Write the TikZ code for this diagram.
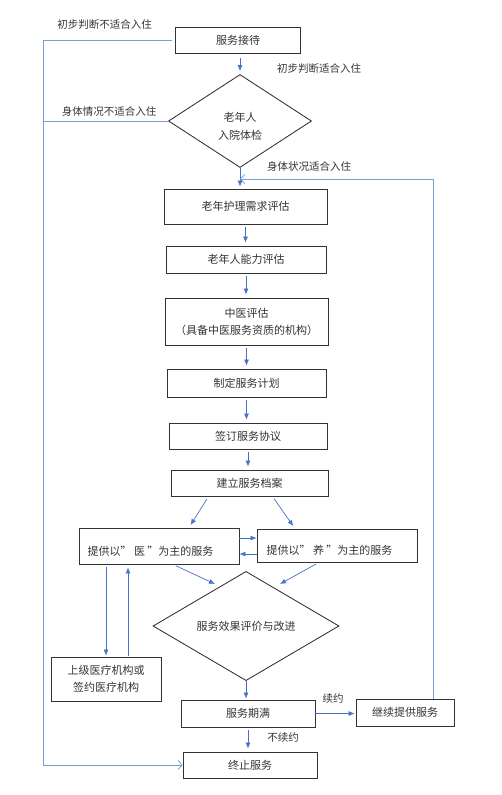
\documentclass[tikz,border=0pt]{standalone}
\usepackage{fontspec}
\setmainfont{Noto Sans CJK SC}
\usetikzlibrary{shapes.geometric,arrows.meta}
\definecolor{arrblue}{HTML}{4472C4}
\definecolor{lineblue}{HTML}{7C9CD8}

\begin{document}
\begin{tikzpicture}[x=1pt,y=-1pt,
        box/.style={draw=black!80,line width=0.8pt,inner sep=0pt,align=center,text=black!80,font=\fontsize{11}{17}\selectfont},
        ask/.style={diamond,draw=black!85,line width=0.8pt,inner sep=0pt,align=center,text=black!80,font=\fontsize{11}{18}\selectfont},
        lbl/.style={inner sep=0pt,text=black!80,font=\fontsize{10.5}{13}\selectfont},
        arr/.style={draw=arrblue,line width=0.7pt,-{Latex[length=6pt,width=5pt]},shorten <=3pt,shorten >=3pt},
        back/.style={draw=lineblue,line width=0.8pt}]
    \useasboundingbox (0,0) rectangle (502,795);

    \node[box,minimum width=125,minimum height=26] (recv) at (238,40) {服务接待};
    \node[ask,minimum width=143,minimum height=93] (chk) at (240,121) {\rule{0pt}{20pt}老年人\\入院体检};
    \node[box,minimum width=163,minimum height=35] (care) at (245.5,206.5) {老年护理需求评估};
    \node[box,minimum width=160,minimum height=27] (abil) at (246,259.5) {老年人能力评估};
    \node[box,minimum width=163,minimum height=47] (tcm) at (246.5,321.5) {中医评估\\（具备中医服务资质的机构）};
    \node[box,minimum width=159,minimum height=28] (plan) at (246.5,383) {制定服务计划};
    \node[box,minimum width=158,minimum height=26] (sign) at (248,436) {签订服务协议};
    \node[box,minimum width=157,minimum height=26] (file) at (249.5,483) {建立服务档案};
    \node[box,minimum width=160,minimum height=36] (yi) at (159,546) {\rule{0pt}{19pt}提供以”\ 医\ ”为主的服务\hspace{17pt}};
    \node[box,minimum width=160,minimum height=33] (yang) at (337,545.5) {\rule{0pt}{19pt}提供以”\ 养\ ”为主的服务\hspace{15pt}};
    \node[ask,minimum width=186,minimum height=92] (eval) at (246,626) {服务效果评价与改进};
    \node[box,minimum width=110,minimum height=44] (hosp) at (106,679) {上级医疗机构或\\签约医疗机构};
    \node[box,minimum width=134,minimum height=27] (due) at (248,713.5) {服务期满};
    \node[box,minimum width=98,minimum height=27] (cont) at (405,712.5) {继续提供服务};
    \node[box,minimum width=134,minimum height=26] (stop) at (250,765) {终止服务};

    % labels on the connectors
    \node[lbl] (nofit1) at (104.5,25) {初步判断不适合入住};
    \node[lbl] (fit1) at (319,69) {初步判断适合入住};
    \node[lbl] (nofit2) at (109,112) {身体情况不适合入住};
    \node[lbl] (fit2) at (309,167) {身体状况适合入住};
    \node[lbl] (renew) at (333,699) {续约};
    \node[lbl] (norenew) at (283,738) {不续约};

    \draw[arr,shorten <=5pt] (chk.north |- recv.south) -- (chk.north);
    \draw[arr,shorten <=0pt,shorten >=2pt] (chk.south) -- (chk.south |- care.north);
    \foreach \a/\b in {care/abil,abil/tcm,tcm/plan,plan/sign,sign/file} {
        \draw[arr] (\a.south) -- (\a.south |- \b.north);
    }
    \draw[arr] ([xshift=-41pt]file.south) -- ([xshift=30pt]yi.north);
    \draw[arr] ([xshift=23pt]file.south) -- ([xshift=-42pt]yang.north);
    \draw[arr,shorten <=0pt,shorten >=0pt] ([yshift=8pt]yi.east) -- ([yshift=8pt]yi.east -| yang.west);
    \draw[arr,shorten <=0pt,shorten >=0pt] ([yshift=-8pt]yi.east -| yang.west) -- ([yshift=-8pt]yi.east);
    \draw[arr,shorten >=0pt] ([xshift=14pt]yi.south) -- ([xshift=-31pt,yshift=-13pt]eval.north);
    \draw[arr,shorten >=0pt] ([xshift=-18pt]yang.south) -- ([xshift=34pt,yshift=-13pt]eval.north);
    \draw[arr,shorten >=1pt] (hosp.north |- yi.south) -- (hosp.north);
    \draw[arr,shorten <=1pt] ([xshift=22pt]hosp.north) -- ([xshift=22pt]hosp.north |- yi.south);
    \draw[arr,shorten <=0pt,shorten >=1pt] (eval.south) -- (eval.south |- due.north);
    \draw[arr,shorten <=0pt,shorten >=1pt] (due.east) -- (due.east -| cont.west);
    \draw[arr] (due.south) -- (due.south |- stop.north);

    % long return lines
    \coordinate (lft) at (43,0);
    \coordinate (rgt) at (433,179);
    \draw[back,-{Straight Barb[length=4pt,width=9pt]}] ([xshift=-3pt]recv.west) -- (recv.west -| lft) |- (stop.west);
    \draw[back] (chk.west) -- (chk.west -| lft);
    \draw[back,-{Straight Barb[length=4pt,width=9pt]}] (cont.north -| rgt) -- (rgt) -- (chk.south |- rgt);
\end{tikzpicture}
\end{document}
